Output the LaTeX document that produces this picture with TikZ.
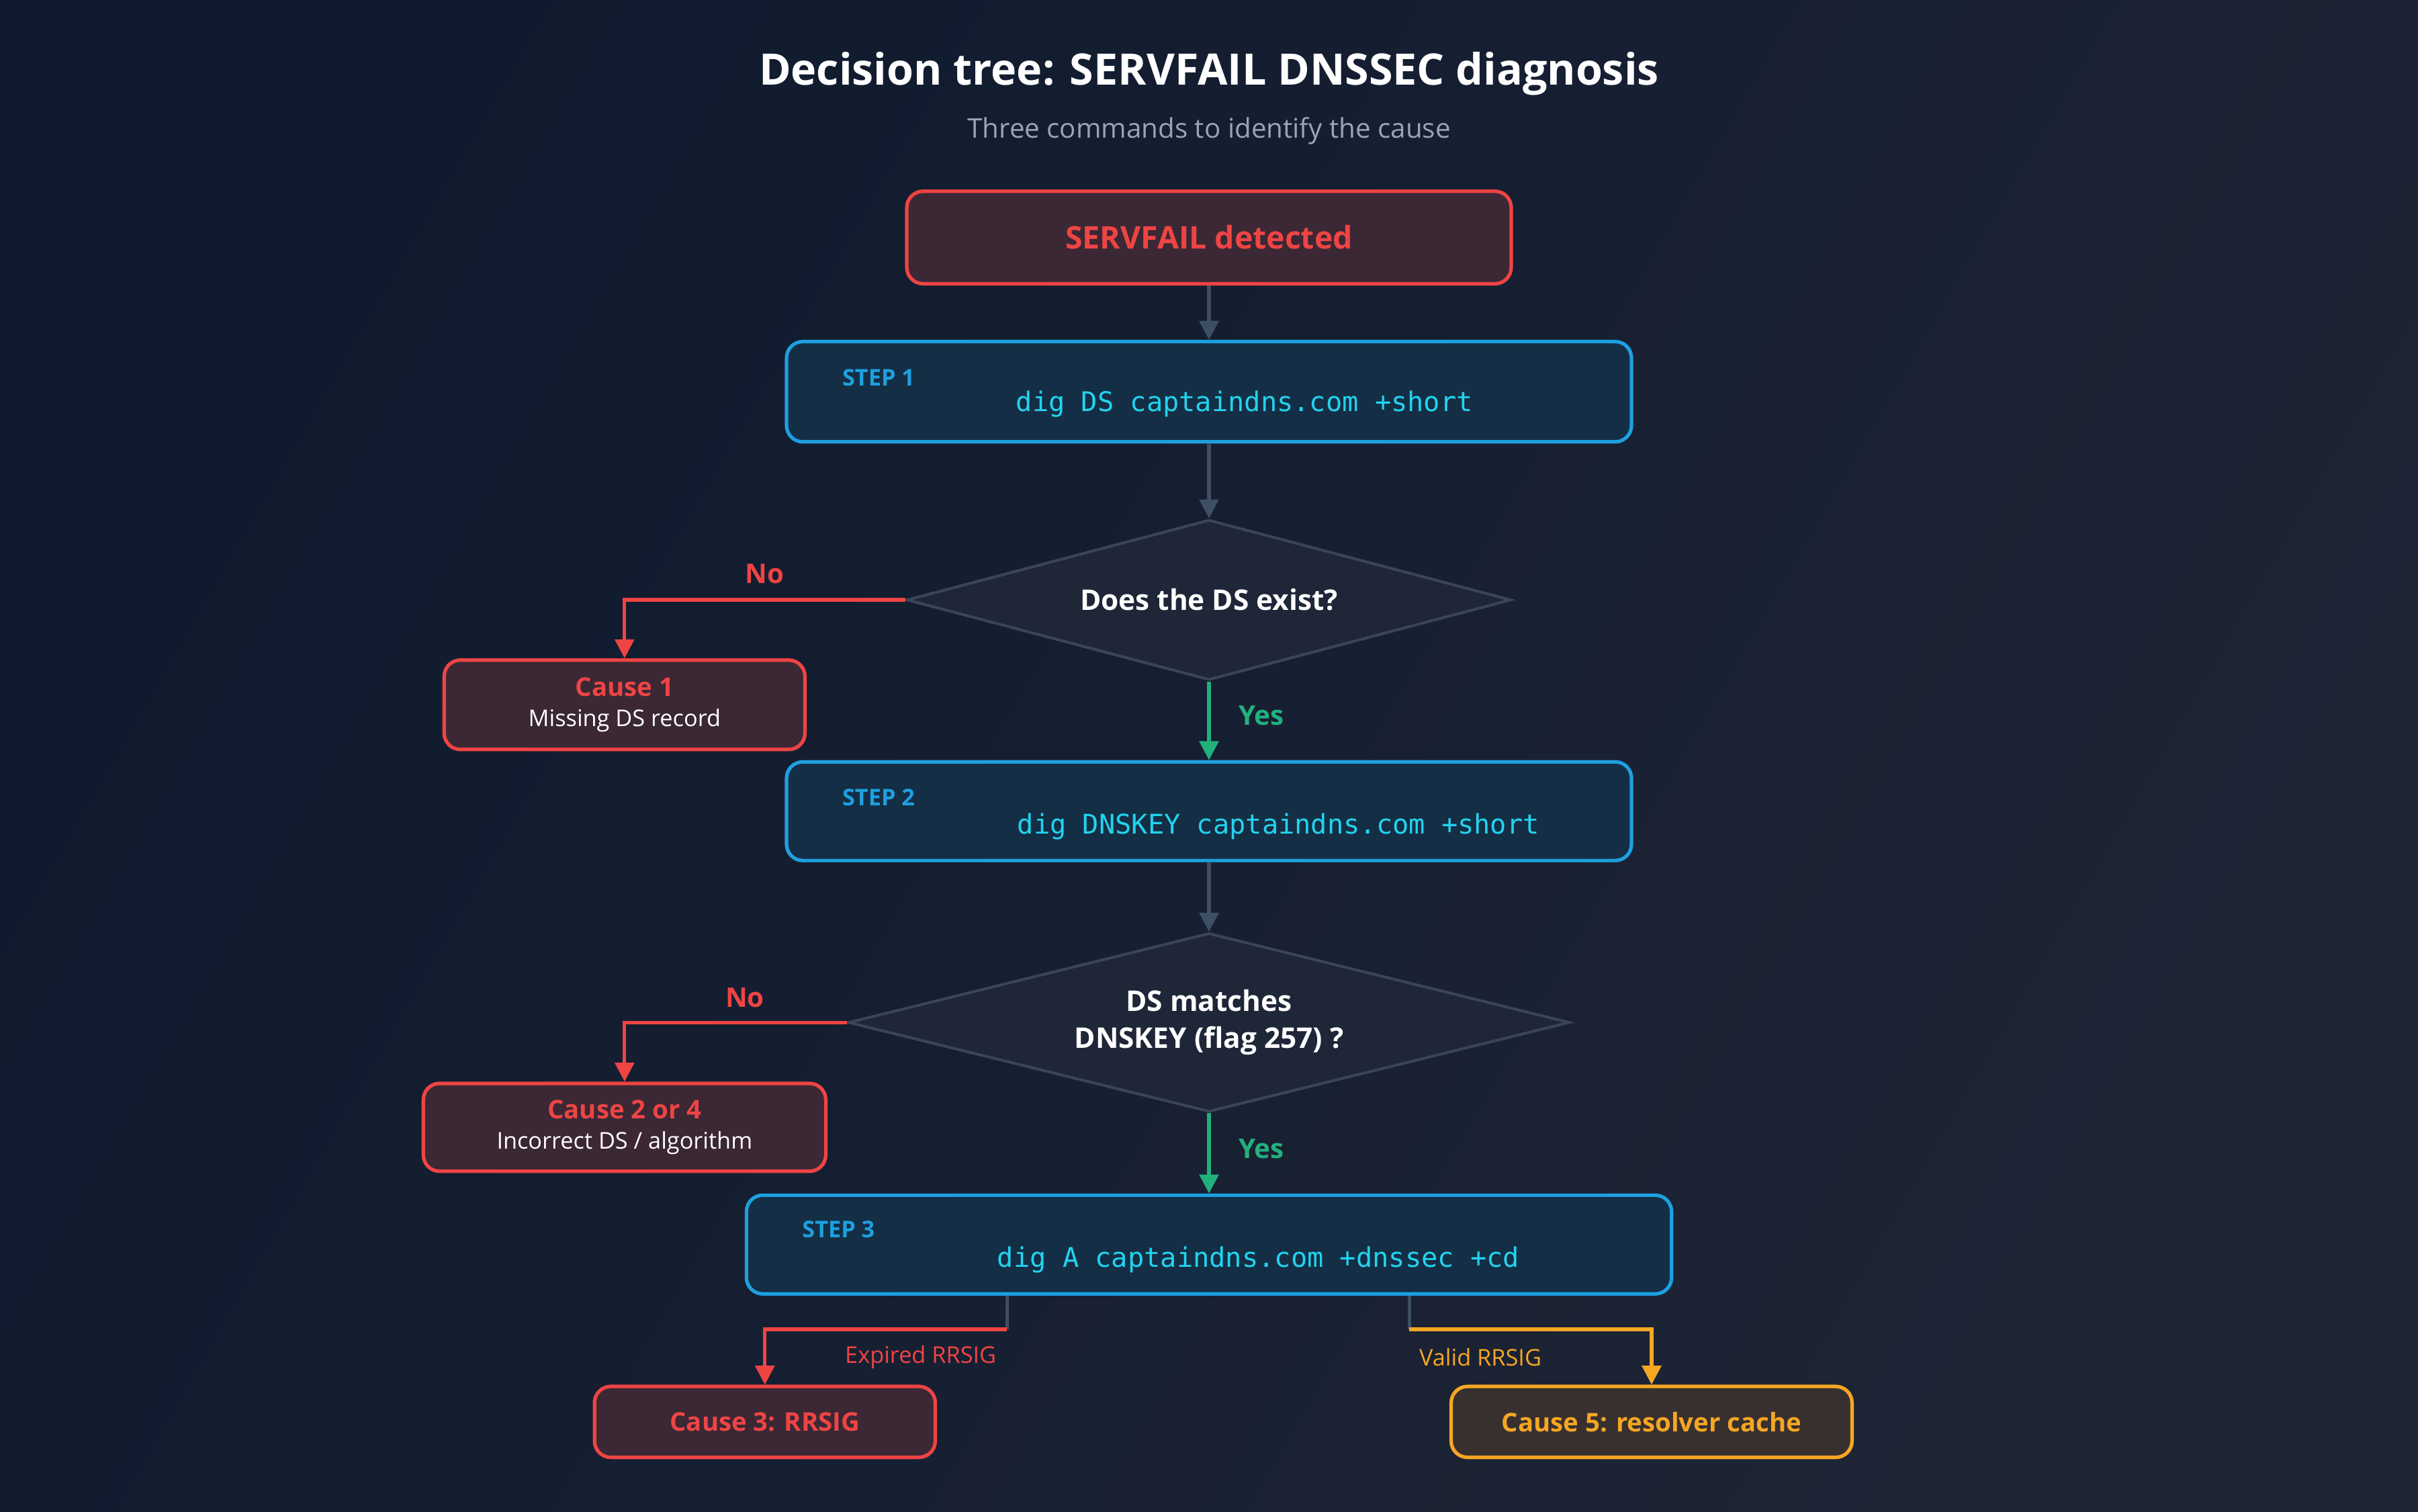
\documentclass[tikz,border=0pt]{standalone}
\usepackage{fontspec}
\setmainfont{Open Sans}
\setmonofont{DejaVu Sans Mono}
\usetikzlibrary{arrows.meta,shapes.geometric}
\definecolor{bgA}{HTML}{0F1A2E}
\definecolor{bgB}{HTML}{1E2535}
\definecolor{redc}{HTML}{EF4444}
\definecolor{redf}{HTML}{3B2834}
\definecolor{bluec}{HTML}{1EA0E0}
\definecolor{bluef}{HTML}{132E45}
\definecolor{cyanc}{HTML}{22D3EE}
\definecolor{greenc}{HTML}{22B07D}
\definecolor{orangec}{HTML}{F5A623}
\definecolor{orangef}{HTML}{38302F}
\definecolor{grayc}{HTML}{3D4F63}
\definecolor{diaf}{HTML}{1E2638}
\definecolor{diab}{HTML}{3A4658}
\definecolor{subc}{HTML}{9AA4B4}
\tikzset{
  redbox/.style={draw=redc,fill=redf,line width=1.3pt,rounded corners=6pt,align=center},
  stepbox/.style={draw=bluec,fill=bluef,line width=1.3pt,rounded corners=6pt},
  orangebox/.style={draw=orangec,fill=orangef,line width=1.3pt,rounded corners=6pt},
  decision/.style={diamond,draw=diab,fill=diaf,line width=1pt,aspect=3.8,inner sep=0pt,align=center,text=white,font=\fontsize{10.5}{13.5}\selectfont\bfseries},
  steplabel/.style={text=bluec,font=\fontsize{8.5}{10}\selectfont\bfseries,anchor=west},
  cmd/.style={text=cyanc,font=\ttfamily\fontsize{10}{12}\selectfont},
  flow/.style={grayc,line width=1.3pt,-{Triangle[length=7pt,width=7pt]}},
  noarrow/.style={redc,line width=1.3pt,-{Triangle[length=7pt,width=7pt]}},
  yesarrow/.style={greenc,line width=1.3pt,-{Triangle[length=7pt,width=7pt]}},
  answer/.style={font=\fontsize{10}{12}\selectfont\bfseries}
}
\begin{document}
\begin{tikzpicture}[x=0.02cm,y=-0.02cm]
\shade[left color=bgA,right color=bgB,shading angle=60] (0,0) rectangle (1568,980);
\useasboundingbox (0,0) rectangle (1568,980);

% title
\node[text=white,font=\fontsize{16}{19}\selectfont\bfseries] (title) at (784,48) {Decision tree: SERVFAIL DNSSEC diagnosis};
\node[text=subc,font=\fontsize{10}{12}\selectfont] (sub) at (784,85) {Three commands to identify the cause};

% boxes
\node[redbox,minimum width=7.84cm,minimum height=1.2cm,text=redc,font=\fontsize{11.5}{14}\selectfont\bfseries] (fail) at (784,154) {SERVFAIL detected};
\node[stepbox,minimum width=10.96cm,minimum height=1.3cm] (s1) at (784,254) {};
\node[steplabel] (s1l) at (540,245) {STEP 1};
\node[cmd] (s1c) at (807,262) {dig DS captaindns.com +short};
\node[decision,minimum width=7.84cm,minimum height=2.08cm] (d1) at (784,389) {Does the DS exist?};
\node[redbox,minimum width=4.68cm,minimum height=1.16cm] (c1) at (405,457)
  {\textcolor{redc}{\fontsize{9.5}{12}\selectfont\bfseries Cause 1}\\[-1pt]\textcolor{white}{\fontsize{8.5}{11}\selectfont Missing DS record}};
\node[stepbox,minimum width=10.96cm,minimum height=1.28cm] (s2) at (784,526) {};
\node[steplabel] (s2l) at (540,517) {STEP 2};
\node[cmd] (s2c) at (829,536) {dig DNSKEY captaindns.com +short};
\node[decision,minimum width=9.36cm,minimum height=2.32cm] (d2) at (784,663) {DS matches\\DNSKEY (flag 257) ?};
\node[redbox,minimum width=5.22cm,minimum height=1.14cm] (c2) at (405,731)
  {\textcolor{redc}{\fontsize{9.5}{12}\selectfont\bfseries Cause 2 or 4}\\[-1pt]\textcolor{white}{\fontsize{8.5}{11}\selectfont Incorrect DS / algorithm}};
\node[stepbox,minimum width=12cm,minimum height=1.28cm] (s3) at (784,807) {};
\node[steplabel] (s3l) at (514,797) {STEP 3};
\node[cmd] (s3c) at (816,817) {dig A captaindns.com +dnssec +cd};
\node[redbox,minimum width=4.42cm,minimum height=0.92cm,text=redc,font=\fontsize{9.5}{12}\selectfont\bfseries] (c3) at (496,922) {Cause 3: RRSIG};
\node[orangebox,minimum width=5.2cm,minimum height=0.92cm,text=orangec,font=\fontsize{9.5}{12}\selectfont\bfseries] (c5) at (1071,922) {Cause 5: resolver cache};

% connectors
\draw[flow] (fail) -- (s1);
\draw[flow] (s1) -- (d1);
\draw[noarrow] (d1.west) -| (c1.north);
\node[answer,text=redc] (no1) at (496,372) {No};
\draw[yesarrow] (d1.south) -- (s2.north);
\node[answer,text=greenc] (yes1) at (818,464) {Yes};
\draw[flow] (s2) -- (d2);
\draw[noarrow] (d2.west) -| (c2.north);
\node[answer,text=redc] (no2) at (483,647) {No};
\draw[yesarrow] (d2.south) -- (s3.north);
\node[answer,text=greenc] (yes2) at (818,745) {Yes};

\coordinate (lt) at (653,862);
\coordinate (rt) at (914,862);
\draw[grayc,line width=1.3pt] (s3.south -| lt) -- (lt);
\draw[noarrow] (lt) -| (c3.north);
\node[text=redc,font=\fontsize{8.5}{10}\selectfont] (exp) at (597,880) {Expired RRSIG};
\draw[grayc,line width=1.3pt] (s3.south -| rt) -- (rt);
\draw[orangec,line width=1.3pt,-{Triangle[length=7pt,width=7pt]}] (rt) -| (c5.north);
\node[text=orangec,font=\fontsize{8.5}{10}\selectfont] (val) at (960,880) {Valid RRSIG};
\end{tikzpicture}
\end{document}
